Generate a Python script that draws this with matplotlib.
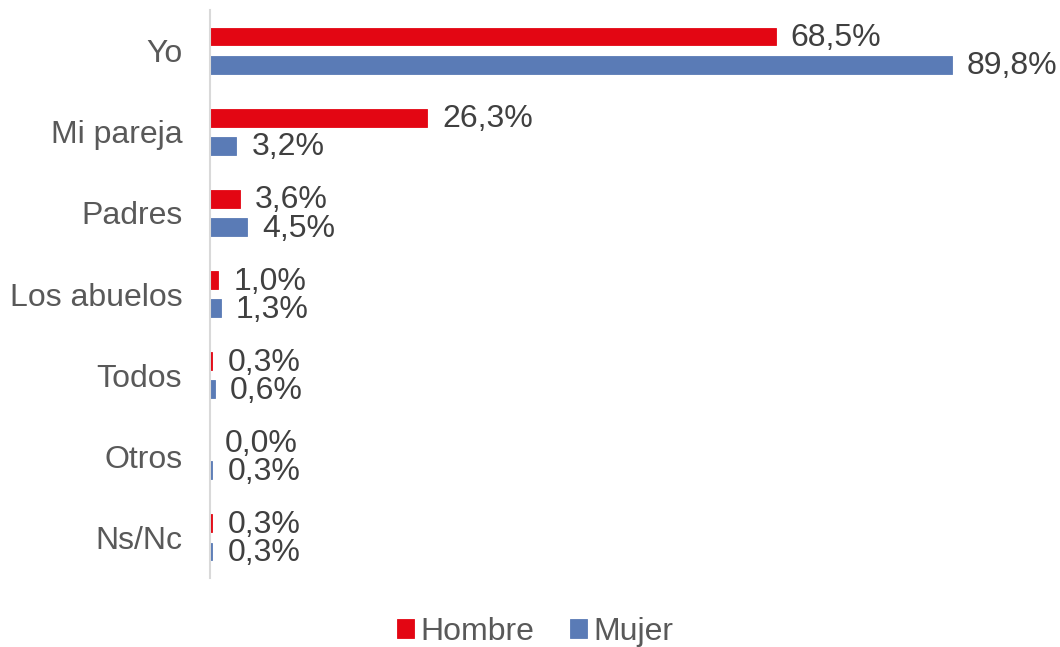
import numpy as np
import matplotlib.pyplot as plt

plt.rcParams['font.family'] = ['Liberation Sans', 'DejaVu Sans']

categorias = ["Yo", "Mi pareja", "Padres", "Los abuelos", "Todos", "Otros", "Ns/Nc"]
hombre = [68.5, 26.3, 3.6, 1.0, 0.3, 0.0, 0.3]
mujer = [89.8, 3.2, 4.5, 1.3, 0.6, 0.3, 0.3]

rojo = "#E30613"
azul = "#5A7BB6"

fig = plt.figure(figsize=(10.6, 6.47), dpi=100)
ax = fig.add_axes([210 / 1060, 1 - 578 / 647, 826 / 1060, 568 / 647])

y = np.arange(len(categorias))
alto = 0.22
desp = 0.173

# borde del mismo color para que las barras finas se vean con su color (no en 0)
ax.barh(y - desp, hombre, height=alto, color=rojo, edgecolor=rojo,
        linewidth=[0.6 if v > 0 else 0 for v in hombre], label="Hombre")
ax.barh(y + desp, mujer, height=alto, color=azul, edgecolor=azul,
        linewidth=[0.6 if v > 0 else 0 for v in mujer], label="Mujer")

for yi, v in zip(y, hombre):
    ax.text(v + 1.8, yi - desp + 0.02, f"{v:.1f}%".replace(".", ","),
            va="center", ha="left", fontsize=23, color="#404040")
for yi, v in zip(y, mujer):
    ax.text(v + 1.8, yi + desp + 0.02, f"{v:.1f}%".replace(".", ","),
            va="center", ha="left", fontsize=23, color="#404040")

ax.set_xlim(0, 100)
ax.set_ylim(len(categorias) - 0.5, -0.5)
ax.set_yticks(y)
ax.set_yticklabels(categorias, fontsize=23, color="#595959")
ax.tick_params(axis="y", length=0, pad=20)
ax.set_xticks([])

for s in ["top", "right", "bottom"]:
    ax.spines[s].set_visible(False)
ax.spines["left"].set_color("#D9D9D9")
ax.spines["left"].set_linewidth(1.5)

fig.legend(loc="center", bbox_to_anchor=(535 / 1060, 1 - 632 / 647), ncol=2,
           frameon=False, fontsize=23, handlelength=0.55, handleheight=0.55,
           handletextpad=0.2, columnspacing=1.1, labelcolor="#595959")

fig.savefig("out.png", dpi=100)
